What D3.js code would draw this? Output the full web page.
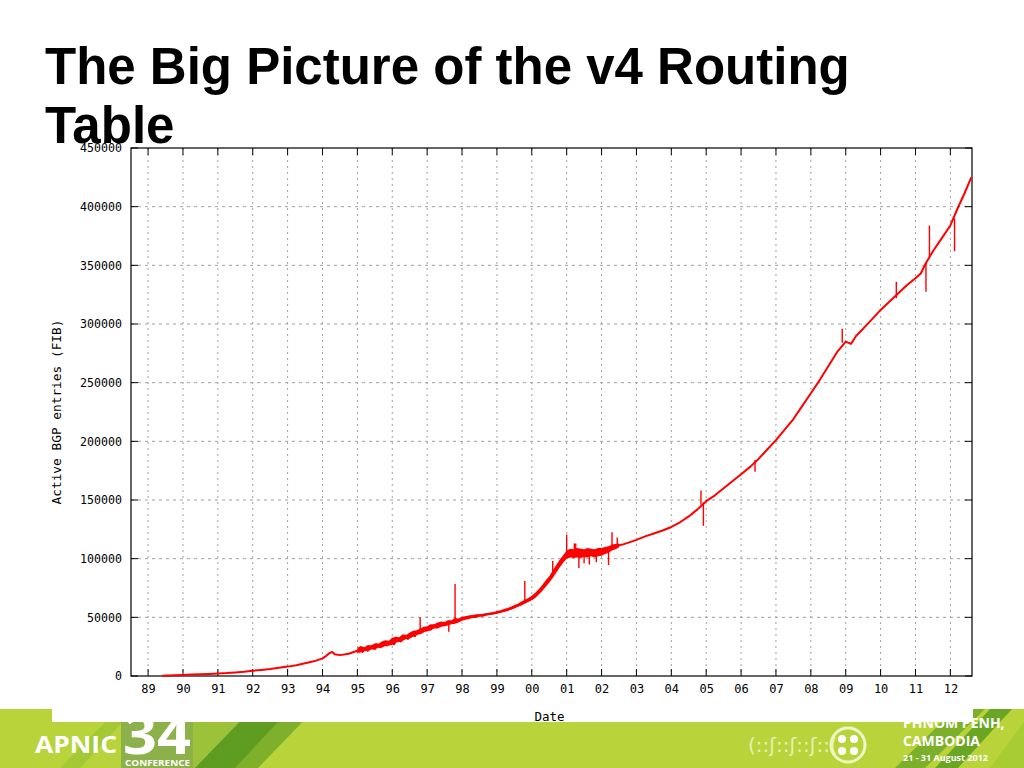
<!DOCTYPE html>
<html><head><meta charset="utf-8">
<script src="https://cdn.jsdelivr.net/npm/d3@7"></script>
<style>body{margin:0;background:#fff;}svg{display:block;}</style>
</head><body>
<svg id="c" width="1024" height="768"></svg>
<script>
// ---- data ----
const yearTicks = [1989,1990,1991,1992,1993,1994,1995,1996,1997,1998,1999,2000,2001,2002,2003,2004,2005,2006,2007,2008,2009,2010,2011,2012];
const yearLabels = ["89","90","91","92","93","94","95","96","97","98","99","00","01","02","03","04","05","06","07","08","09","10","11","12"];
const valueTicks = [0,50000,100000,150000,200000,250000,300000,350000,400000,450000];
const dates = [
 1989.40,1989.75,1990.00,1990.25,1990.50,1990.75,1991.00,1991.25,1991.50,1991.75,
 1992.00,1992.25,1992.50,1992.75,1993.00,1993.25,1993.50,1993.75,1994.00,1994.10,
 1994.20,1994.28,1994.35,1994.50,1994.75,1995.00,1995.10,1995.15,1995.25,1995.30,
 1995.40,1995.50,1995.55,1995.65,1995.75,1995.85,1996.00,1996.05,1996.15,1996.25,
 1996.35,1996.45,1996.55,1996.65,1996.75,1996.85,1997.00,1997.10,1997.20,1997.30,
 1997.40,1997.50,1997.60,1997.70,1997.80,1997.90,1998.00,1998.20,1998.40,1998.60,
 1998.80,1999.00,1999.20,1999.40,1999.60,1999.80,2000.00,2000.10,2000.20,2000.30,
 2000.40,2000.50,2000.60,2000.70,2000.80,2000.90,2001.00,2001.10,2001.20,2001.30,
 2001.40,2001.50,2001.60,2001.70,2001.80,2001.90,2002.00,2002.10,2002.20,2002.30,
 2002.40,2002.50,2002.60,2002.75,2003.00,2003.25,2003.50,2003.75,2004.00,2004.25,
 2004.50,2004.75,2005.00,2005.25,2005.50,2005.75,2006.00,2006.25,2006.50,2006.75,
 2007.00,2007.25,2007.50,2007.75,2008.00,2008.25,2008.50,2008.75,2009.00,2009.15,
 2009.30,2009.50,2009.75,2010.00,2010.25,2010.50,2010.75,2011.00,2011.15,2011.30,
 2011.50,2011.75,2012.00,2012.20,2012.40,2012.60];
const entries = [
 300,600,900,1200,1500,1800,2200,2500,3000,3600,
 4500,5200,6000,7000,8000,9200,10800,12500,15000,17000,
 19500,20500,18500,17800,19000,21500,23500,20500,24000,21500,
 25500,23000,27000,24500,28500,26000,30500,27000,32000,29500,
 33500,31500,36000,34000,38500,37000,41000,39500,43000,42000,
 45000,44000,46500,45500,48000,47000,49000,50500,51500,52000,
 53000,54000,55500,57500,60000,63000,66000,69000,72500,75000,
 78500,82000,87000,91000,96000,100000,103000,106000,104000,107000,
 103500,106000,104000,106500,103000,105500,105000,107500,106000,109000,
 110000,111500,112000,113500,116000,119000,121500,124000,127000,131000,
 136000,142000,149000,154000,160000,166000,172000,178000,185000,193000,
 201000,210000,219000,230000,241000,252000,264000,276000,285000,283000,
 290000,296000,304000,312000,319000,326000,333000,339000,343000,352000,
 362000,373000,384000,398000,411000,425000];
// noisy stretch: lower and upper envelope of the daily jitter
const bandDates = [
 1995.0,1995.1,1995.2,1995.3,1995.4,1995.5,1995.6,1995.7,1995.8,1995.9,
 1996.0,1996.1,1996.2,1996.3,1996.4,1996.5,1996.6,1996.7,1996.8,1996.9,
 1997.0,1997.1,1997.2,1997.3,1997.4,1997.5,1997.6,1997.7,1997.8,1997.9,
 1998.0,1998.1,1998.2,1998.3,1998.4,1998.5,1998.6,1998.7,1998.8,1998.9,
 1999.0,1999.1,1999.2,1999.3,1999.4,1999.5,1999.6,1999.7,1999.8,1999.9,
 2000.0,2000.1,2000.2,2000.3,2000.4,2000.5,2000.6,2000.7,2000.8,2000.9,
 2001.0,2001.1,2001.2,2001.3,2001.4,2001.5,2001.6,2001.7,2001.8,2001.9,
 2002.0,2002.1,2002.2,2002.3,2002.4,2002.5];
const bandLow = [
 19500,20000,21500,21000,22500,22500,24000,24000,25500,26000,
 26500,28500,29000,30000,31500,32000,33500,35000,35500,37500,
 38000,39000,40500,40500,42000,42500,43000,44000,44500,45500,
 47000,48000,48500,49500,49500,50500,50500,51500,52000,52500,
 53000,54000,54500,55500,56500,57500,59000,60000,61500,63000,
 64500,66500,69500,72500,76000,79500,83500,88000,92500,96500,
 100000,101000,100500,101000,100500,101500,101000,102000,101000,102000,
 102500,104000,105000,107000,108000,109500];
const bandHigh = [
 24000,25500,24500,26500,26000,28000,27500,29500,30500,30000,
 32500,33500,33000,35500,35000,37000,38500,39000,40500,42000,
 42500,44000,44000,45500,46500,46000,47500,47500,49500,49000,
 50500,51000,51500,52000,52500,52500,53000,53500,54000,54500,
 55500,56000,57000,58000,59000,60500,61500,63500,65000,66500,
 68500,71000,74000,77500,81500,85000,90000,94500,99000,103000,
 107000,108500,108000,109000,108500,108000,109000,108500,108000,109000,
 109000,110000,110500,112000,112500,113000];
// spikes: date, base value, spike value
const spikeDates = [1996.80,1997.62,1997.80,1999.80,2000.60,2001.00,2001.22,2001.26,2001.35,2001.50,2001.65,2001.85,2002.20,2002.30,2002.45,2004.85,2004.92,2006.40,2008.90,2010.45,2011.30,2011.40,2012.12];
const spikeBase  = [38000,46000,47500,63000,87000,103000,104000,104500,106000,106000,104000,104000,106000,109000,110500,146000,148000,184000,284000,322000,352000,357000,390000];
const spikeTop   = [50000,37800,78500,81000,98000,120500,113000,113000,92000,96000,95000,97000,94500,122500,118000,158000,128000,174000,296000,336000,327500,384000,362000];

// ---- drawing ----
const svg = d3.select("#c");
const sans = "'Open Sans','Liberation Sans',sans-serif";
// title
const title = svg.append("text").attr("font-family","'Liberation Sans',Arial,sans-serif")
  .attr("font-weight","bold").attr("font-size",51).attr("fill","#000");
title.append("tspan").attr("x",45).attr("y",84).text("The Big Picture of the v4 Routing");
title.append("tspan").attr("x",45).attr("y",143).text("Table");

// banner
const bw = svg.append("g");
bw.append("rect").attr("x",0).attr("y",709).attr("width",1024).attr("height",59).attr("fill","#b9d43a");
bw.append("path").attr("d","M60,768 L118,709 L135,709 L80,768 Z").attr("fill","#a4c935");
bw.append("path").attr("d","M150,768 L205,709 L260,709 L205,768 Z").attr("fill","#9cc23a");
bw.append("path").attr("d","M195,768 L252,709 L300,709 L240,768 Z").attr("fill","#5f9c22");
bw.append("path").attr("d","M235,768 L290,709 L315,709 L258,768 Z").attr("fill","#7fb02c");
bw.append("rect").attr("x",121).attr("y",709).attr("width",72).attr("height",59).attr("fill","#8cb14b");
bw.append("path").attr("d","M895,768 L955,709 L985,709 L925,768 Z").attr("fill","#7cb02a");
bw.append("path").attr("d","M935,768 L990,709 L1012,709 L958,768 Z").attr("fill","#6aa624");
bw.append("path").attr("d","M990,768 L1024,722 L1024,768 Z").attr("fill","#a8cc34");
// chart image white background (extends into the banner)
svg.append("rect").attr("x",52).attr("y",700).attr("width",921).attr("height",22).attr("fill","#fff");
bw.append("text").attr("x",35).attr("y",753).attr("font-family",sans)
  .attr("font-weight","bold").attr("font-size",24).attr("fill","#fff")
  .attr("textLength",82).attr("lengthAdjust","spacingAndGlyphs").text("APNIC");
bw.append("text").attr("x",123).attr("y",754).attr("font-family",sans)
  .attr("font-weight","bold").attr("font-size",54).attr("fill","#fff")
  .attr("textLength",68).attr("lengthAdjust","spacingAndGlyphs").text("34");
svg.append("rect").attr("x",121).attr("y",700).attr("width",72).attr("height",22).attr("fill","#fff");
bw.append("text").attr("x",125).attr("y",766).attr("font-family",sans)
  .attr("font-weight","bold").attr("font-size",9).attr("fill","#fff")
  .attr("textLength",65).attr("lengthAdjust","spacingAndGlyphs").text("CONFERENCE");
bw.append("text").attr("x",748).attr("y",752).attr("font-family","'DejaVu Sans',sans-serif")
  .attr("font-size",20).attr("fill","#eef6c8").attr("opacity",0.85).text("(::ʃ::ʃ::ʃ::(");
bw.append("circle").attr("cx",848).attr("cy",745).attr("r",17).attr("fill","none").attr("stroke","#eef6c8").attr("stroke-width",3);
[[842,739],[854,739],[842,751],[854,751]].forEach(p=>bw.append("circle").attr("cx",p[0]).attr("cy",p[1]).attr("r",4).attr("fill","#fff"));
bw.append("text").attr("x",903).attr("y",728).attr("font-family",sans)
  .attr("font-weight","bold").attr("font-size",14).attr("fill","#fff").text("PHNOM PENH,");
svg.append("rect").attr("x",880).attr("y",700).attr("width",93).attr("height",17).attr("fill","#fff");
bw.append("text").attr("x",903).attr("y",746).attr("font-family",sans)
  .attr("font-weight","bold").attr("font-size",14).attr("fill","#fff").text("CAMBODIA");
bw.append("text").attr("x",903).attr("y",761).attr("font-family",sans)
  .attr("font-weight","bold").attr("font-size",9).attr("fill","#fff").text("21 - 31 August 2012");

// plot
const L=131, R=972, T=148, B=676;
const x = d3.scaleLinear().domain([1988.51, 2012.62]).range([L,R]);
const y = d3.scaleLinear().domain([0,450000]).range([B,T]);
const g = svg.append("g");
const mono = "'DejaVu Sans Mono','Liberation Mono',monospace";

// grid
g.selectAll(".vg").data(yearTicks).join("line")
  .attr("x1",d=>x(d)).attr("x2",d=>x(d)).attr("y1",T).attr("y2",B)
  .attr("stroke","#a0a0a0").attr("stroke-width",1).attr("stroke-dasharray","2,4");
g.selectAll(".hg").data(valueTicks.slice(1,-1)).join("line")
  .attr("x1",L).attr("x2",R).attr("y1",d=>y(d)).attr("y2",d=>y(d))
  .attr("stroke","#a0a0a0").attr("stroke-width",1).attr("stroke-dasharray","3,4");

// axes (labels)
const xAx = d3.axisBottom(x).tickValues(yearTicks).tickFormat((d,i)=>yearLabels[i]).tickSize(0).tickPadding(8);
const xg = g.append("g").attr("transform",`translate(0,${B})`).call(xAx);
xg.select(".domain").remove();
xg.selectAll("text").attr("font-family",mono).attr("font-size",12).attr("fill","#000");
const yAx = d3.axisLeft(y).tickValues(valueTicks).tickFormat(d3.format("d")).tickSize(0).tickPadding(9);
const yg = g.append("g").attr("transform",`translate(${L},0)`).call(yAx);
yg.select(".domain").remove();
yg.selectAll("text").attr("font-family",mono).attr("font-size",11.6).attr("fill","#000");

// ticks inward (mirrored)
const tk = g.append("g").attr("stroke","#000").attr("stroke-width",1);
yearTicks.forEach(d=>{
  tk.append("line").attr("x1",x(d)).attr("x2",x(d)).attr("y1",B).attr("y2",B-7);
  tk.append("line").attr("x1",x(d)).attr("x2",x(d)).attr("y1",T).attr("y2",T+7);
});
valueTicks.forEach(d=>{
  tk.append("line").attr("x1",L).attr("x2",L+7).attr("y1",y(d)).attr("y2",y(d));
  tk.append("line").attr("x1",R).attr("x2",R-7).attr("y1",y(d)).attr("y2",y(d));
});
g.append("rect").attr("x",L).attr("y",T).attr("width",R-L).attr("height",B-T)
  .attr("fill","none").attr("stroke","#000").attr("stroke-width",1.2);

// axis titles
g.append("text").attr("x",(L+R)/2-2).attr("y",721).attr("text-anchor","middle")
  .attr("font-family",mono).attr("font-size",12.5).text("Date");
g.append("text").attr("transform",`translate(61,${(T+B)/2}) rotate(-90)`).attr("text-anchor","middle")
  .attr("font-family",mono).attr("font-size",12.8).text("Active BGP entries (FIB)");

// series
g.append("path").datum(bandDates)
  .attr("d",d3.area().x(d=>x(d)).y0((d,i)=>y(bandLow[i])).y1((d,i)=>y(bandHigh[i])))
  .attr("fill","#ff0000");
const pts = dates.map((d,i)=>[d,entries[i]]);
g.append("path").datum(pts)
  .attr("d",d3.line().x(d=>x(d[0])).y(d=>y(d[1])))
  .attr("fill","none").attr("stroke","#ff0000").attr("stroke-width",2).attr("stroke-linejoin","round");
g.selectAll(".sp").data(spikeDates).join("line")
  .attr("x1",d=>x(d)).attr("x2",d=>x(d))
  .attr("y1",(d,i)=>y(spikeBase[i])).attr("y2",(d,i)=>y(spikeTop[i]))
  .attr("stroke","#ff0000").attr("stroke-width",1.4);
</script>
</body></html>
